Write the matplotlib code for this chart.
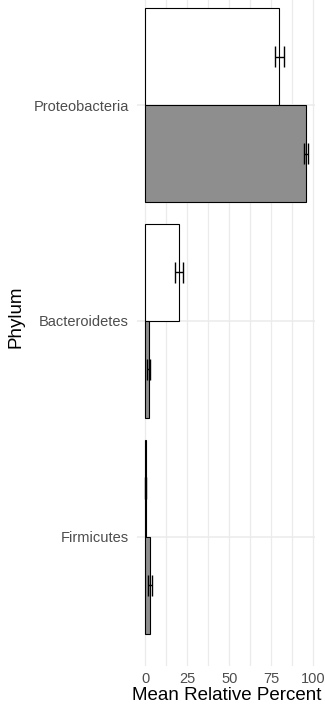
import numpy as np
import matplotlib
matplotlib.use("Agg")
import matplotlib.pyplot as plt

plt.rcParams['font.family'] = ['Liberation Sans', 'DejaVu Sans']

# mean relative abundance per phylum, two groups (white / grey), with standard errors
phyla = ["Firmicutes", "Bacteroidetes", "Proteobacteria"]
white_mean = [0.3, 20.1, 79.8]
white_se = [0.15, 2.65, 2.8]
grey_mean = [2.8, 2.0, 95.6]
grey_se = [1.0, 1.1, 1.2]
x_ticks = [0, 25, 50, 75, 100]

fig = plt.figure(figsize=(3.25, 7.08), dpi=100)
ax = fig.add_axes([0.4225, 0.059, 0.5475, 0.941])

pos = np.arange(1, len(phyla) + 1)
h = 0.45

# grid: major + minor lines like theme_minimal
for v in np.arange(0, 101, 12.5):
    ax.axvline(v, color="#EBEBEB", lw=0.9, zorder=0)
for p in pos:
    ax.axhline(p, color="#EBEBEB", lw=1.1, zorder=0)

ax.barh(pos + h / 2, white_mean, height=h, color="white", edgecolor="black", lw=0.8, zorder=2)
ax.barh(pos - h / 2, grey_mean, height=h, color="#8E8E8E", edgecolor="black", lw=0.8, zorder=2)

# error bars with short caps
cap = 0.05
for yy, m, s in [(pos + h / 2, white_mean, white_se), (pos - h / 2, grey_mean, grey_se)]:
    m = np.array(m)
    s = np.array(s)
    ax.hlines(yy, m - s, m + s, color="black", lw=1.0, zorder=3)
    ax.vlines(m - s, yy - cap, yy + cap, color="black", lw=1.0, zorder=3)
    ax.vlines(m + s, yy - cap, yy + cap, color="black", lw=1.0, zorder=3)

ax.set_xlim(-4.7, 101.2)
ax.set_ylim(0.4, 3.487)
ax.set_yticks(pos)
ax.set_yticklabels(phyla)
ax.set_xticks(x_ticks)
ax.set_xticklabels([str(t) for t in x_ticks])
ax.tick_params(axis="both", length=0, colors="#4D4D4D", labelsize=10.5)
ax.tick_params(axis="y", pad=6)
ax.tick_params(axis="x", pad=4)
for sp in ax.spines.values():
    sp.set_visible(False)

ax.set_xlabel("Mean Relative Percent", fontsize=13.5, color="black", labelpad=1)
ax.set_ylabel("Phylum", fontsize=13.5, color="black")
ax.yaxis.set_label_coords(-0.635, 0.525)

fig.savefig("out.png", dpi=100)
